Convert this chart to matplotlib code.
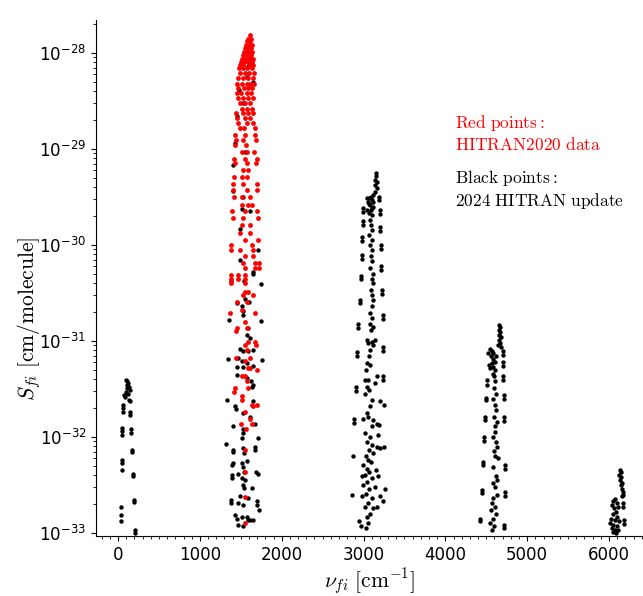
import numpy as np
import matplotlib
matplotlib.use('Agg')
import matplotlib.pyplot as plt
from matplotlib.ticker import MultipleLocator

# values: wavenumber [cm^-1] and log10 of intensity

# band near 100 cm-1 (black)
nu_b1 = [98, 114, 126, 106, 135, 114, 143, 98, 122, 78, 86, 139, 147,
         65, 65, 65, 53, 53, 53, 45, 45, 45, 37, 37, 37,
         147, 147, 163, 163, 175, 175, 188, 188, 196, 196, 208, 208]
lgS_b1 = [-31.41, -31.42, -31.44, -31.46, -31.48, -31.49, -31.51, -31.53, -31.55, -31.56, -31.58, -31.61, -31.63,
          -31.67, -31.70, -31.74, -31.91, -31.94, -31.98, -32.24, -32.27, -32.34, -32.73, -32.81, -32.88,
          -31.74, -31.77, -31.92, -31.96, -32.14, -32.16, -32.39, -32.41, -32.66, -32.68, -32.97, -33.00]

# band near 1600 cm-1, 2024 update (black)
nu_b2 = [1377, 1544, 1743, 1654, 1552, 1601, 1450, 1511, 1523, 1360, 1747, 1531, 1593, 1572, 1613,
         1491, 1531, 1593, 1654, 1348, 1755, 1470, 1511, 1572, 1450, 1531, 1654, 1458, 1572, 1621,
         1654, 1633, 1336, 1430, 1442, 1654, 1531, 1613, 1674, 1409, 1523, 1531, 1511, 1320, 1715,
         1401, 1409, 1531, 1544, 1674, 1674, 1580, 1511, 1401, 1393, 1523, 1540, 1686, 1715, 1389,
         1389, 1470, 1511, 1552, 1531, 1633, 1544, 1491, 1593, 1377, 1385, 1694, 1703, 1470, 1531,
         1727, 1430, 1511, 1450, 1572, 1613, 1654, 1470, 1531, 1593,
         1613, 1483, 1572, 1654, 1450, 1430, 1552, 1409, 1409, 1531, 1511, 1613, 1491, 1715, 1491,
         1654, 1593, 1531]
lgS_b2 = [-30.38, -30.38, -30.41, -30.28, -30.56, -30.59, -30.61, -30.64, -30.73, -30.78, -30.79, -30.69, -30.87, -30.94, -30.97,
          -31.08, -31.11, -31.11, -31.09, -31.19, -31.20, -31.18, -31.21, -31.23, -31.27, -31.27, -31.26, -31.36, -31.39, -31.42,
          -31.46, -31.48, -31.61, -31.68, -31.71, -31.63, -31.75, -31.79, -31.86, -31.89, -31.92, -31.96, -32.01, -32.07, -32.01,
          -32.14, -32.16, -32.12, -32.17, -32.10, -32.14, -32.25, -32.27, -32.27, -32.29, -32.31, -32.37, -32.37, -32.39, -32.40,
          -32.43, -32.39, -32.43, -32.45, -32.50, -32.53, -32.53, -32.62, -32.64, -32.66, -32.69, -32.67, -32.71, -32.69, -32.71,
          -32.76, -32.81, -32.83, -32.85, -32.83, -32.86, -32.87, -32.92, -32.93, -32.86,
          -28.06, -28.39, -28.25, -28.30, -28.66, -28.94, -29.03, -29.17, -29.44, -29.50, -29.63, -29.65, -29.83, -30.05, -30.16,
          -30.30, -28.14, -28.52]

# band near 1600 cm-1, HITRAN2020 (red)
nu_red = [1613, 1593, 1621, 1572, 1613, 1564, 1605, 1633, 1552, 1593, 1625, 1540, 1580, 1613, 1641,
          1523, 1572, 1621, 1511, 1552, 1605, 1646, 1499, 1540, 1593, 1633, 1491, 1531, 1613, 1654,
          1483, 1523, 1572, 1633, 1491, 1552, 1605, 1662, 1470, 1531, 1593, 1654, 1458, 1511, 1572,
          1613, 1662, 1470, 1540, 1593, 1633, 1450, 1499, 1572, 1621, 1470, 1531, 1593, 1646, 1491,
          1552, 1613, 1511, 1572, 1633, 1442, 1531, 1593, 1654, 1450, 1552, 1613, 1470, 1572, 1654,
          1491, 1540, 1674, 1430, 1552, 1674, 1438, 1531, 1686, 1430, 1564, 1511, 1572, 1666, 1422,
          1552, 1694, 1430, 1572, 1686, 1531, 1593, 1417, 1511, 1572, 1409, 1531, 1694, 1409, 1572,
          1703, 1417, 1511, 1613, 1511, 1593, 1633, 1397, 1552, 1703, 1401, 1531, 1715, 1511, 1613,
          1491, 1613, 1552, 1715, 1377, 1633, 1385, 1491, 1646, 1552, 1654, 1531, 1674, 1727, 1552,
          1674, 1727, 1377, 1470, 1552,
          1377, 1470, 1552, 1377, 1552, 1552, 1593, 1531, 1654, 1458, 1572, 1511, 1369, 1674, 1552,
          1450, 1572, 1442, 1593, 1674, 1552, 1686, 1572, 1442, 1613, 1552, 1593, 1613, 1694, 1511,
          1552, 1572, 1430, 1593, 1422, 1511, 1511, 1633, 1703, 1654, 1552, 1613, 1499, 1633, 1560,
          1552, 1552, 1552, 1552]
lgS_red = [-27.81, -27.85, -27.85, -27.88, -27.88, -27.92, -27.92, -27.92, -27.95, -27.95, -27.95, -27.99, -27.99, -27.99, -27.99,
           -28.02, -28.02, -28.02, -28.06, -28.06, -28.06, -28.06, -28.09, -28.09, -28.09, -28.09, -28.13, -28.13, -28.13, -28.13,
           -28.16, -28.16, -28.16, -28.16, -28.21, -28.21, -28.21, -28.21, -28.26, -28.26, -28.26, -28.26, -28.32, -28.32, -28.32,
           -28.32, -28.32, -28.37, -28.37, -28.37, -28.37, -28.42, -28.42, -28.42, -28.42, -28.47, -28.47, -28.47, -28.47, -28.52,
           -28.52, -28.52, -28.58, -28.58, -28.58, -28.63, -28.63, -28.63, -28.63, -28.68, -28.68, -28.68, -28.73, -28.73, -28.73,
           -28.78, -28.78, -28.78, -28.85, -28.85, -28.85, -28.91, -28.91, -28.91, -28.96, -28.96, -29.03, -29.03, -29.03, -29.10,
           -29.10, -29.10, -29.15, -29.15, -29.15, -29.22, -29.22, -29.29, -29.29, -29.29, -29.37, -29.37, -29.37, -29.43, -29.43,
           -29.43, -29.50, -29.50, -29.50, -29.58, -29.58, -29.58, -29.65, -29.65, -29.65, -29.72, -29.72, -29.72, -29.79, -29.79,
           -29.88, -29.88, -29.95, -29.95, -30.00, -30.00, -30.05, -30.05, -30.05, -30.12, -30.12, -30.19, -30.19, -30.19, -30.24,
           -30.24, -30.24, -30.31, -30.31, -30.31,
           -30.35, -30.35, -30.35, -30.40, -30.40, -30.49, -30.49, -30.52, -30.52, -30.59, -30.59, -30.68, -30.71, -30.71, -30.80,
           -30.87, -30.87, -30.90, -31.01, -31.01, -31.04, -31.04, -31.09, -31.18, -31.18, -31.21, -31.28, -31.28, -31.30, -31.37,
           -31.37, -31.42, -31.49, -31.49, -31.53, -31.57, -31.61, -31.67, -31.67, -31.68, -31.74, -31.81, -31.86, -31.86, -31.92,
           -32.14, -32.37, -32.63, -32.90]

# band near 3100 cm-1 (black)
nu_b3 = [3149, 3153, 3141, 3161, 3145, 3161, 3137, 3112, 3088, 3072, 3100, 3120, 3059, 3080, 3112,
         3088, 3072, 3100, 3080, 3088, 3100, 3072, 3100, 3080, 3108, 3088, 3100, 3080, 3112, 3100,
         3120, 3088, 3108, 3120, 3100, 3080, 3100, 3080, 3112, 3088, 3059, 3100, 3120, 3080, 3072,
         3039, 3080, 3031, 3059, 3039, 3072, 3019, 3100, 3080, 3039, 3059, 3112, 3100, 3080, 3047,
         3100, 3072, 3120, 3031, 3059, 3088, 2998, 3039, 3072, 3019, 2978, 3100, 3047, 2998, 3072,
         3031, 2978, 3100, 3059, 3019, 3120, 3080, 3039, 2949, 3059, 2966, 3031,
         3161, 3202, 3182, 3153, 3141, 3202, 3243, 3161,
         3047, 3141, 3019, 3161, 3141, 2998, 3161, 3019,
         3047, 3072, 3100, 3047,
         3194, 3194, 3202, 3202, 3202, 3202, 3210, 3210, 3214, 3214, 3222, 3222, 3235, 3235, 3243,
         3243, 3243, 3243, 3251, 3202, 3194, 3182, 3251, 3263,
         2998, 2998, 2990, 2990, 2986, 2986, 2978, 2978, 2970, 2970, 2958, 2958, 2937, 2937, 2917,
         2917, 2905, 2905, 2888, 2888, 2876, 2864]
lgS_b3 = [-29.25, -29.28, -29.32, -29.34, -29.38, -29.41, -29.45, -29.48, -29.50, -29.51, -29.53, -29.55, -29.55, -29.58, -29.60,
          -29.64, -29.67, -29.69, -29.74, -29.79, -29.84, -29.90, -29.95, -30.00, -30.05, -30.12, -30.17, -30.24, -30.30, -30.35,
          -30.40, -30.47, -30.52, -30.57, -30.64, -30.71, -30.76, -30.82, -30.85, -30.89, -31.02, -31.01, -31.04, -31.09, -31.16,
          -31.23, -31.25, -31.30, -31.41, -31.48, -31.51, -31.55, -31.62, -31.68, -31.75, -31.79, -31.82, -31.89, -32.00, -32.05,
          -32.08, -32.14, -32.17, -32.20, -32.24, -32.26, -32.29, -32.33, -32.36, -32.40, -32.41, -32.43, -32.47, -32.50, -32.54,
          -32.59, -32.62, -32.64, -32.69, -32.73, -32.74, -32.80, -32.83, -32.88, -32.90, -32.93, -32.95,
          -32.10, -32.12, -32.41, -32.34, -32.52, -32.62, -32.67, -32.73,
          -30.99, -30.99, -31.41, -31.37, -31.44, -31.81, -31.86, -31.96,
          -29.51, -29.57, -29.62, -29.64,
          -29.50, -29.53, -29.64, -29.68, -29.81, -29.85, -30.00, -30.04, -30.22, -30.26, -30.47, -30.51, -30.73, -30.77, -31.06,
          -31.10, -31.37, -31.41, -31.67, -31.63, -31.88, -31.98, -32.10, -32.54,
          -29.62, -29.66, -29.75, -29.79, -29.92, -29.96, -30.11, -30.15, -30.32, -30.36, -30.57, -30.61, -30.82, -30.87, -31.12,
          -31.16, -31.48, -31.52, -31.81, -31.85, -32.20, -32.60]

# band near 4600 cm-1 (black)
nu_b4 = [4660, 4668, 4656, 4672, 4660, 4676, 4656, 4668, 4647, 4676,
         4566, 4586, 4554, 4578, 4607, 4566, 4586, 4546, 4607, 4578, 4594, 4537, 4619, 4525, 4546,
         4700, 4700, 4709, 4709, 4709, 4709, 4717, 4717, 4717, 4717, 4725, 4725, 4729, 4729, 4721, 4721,
         4505, 4505, 4497, 4497, 4484, 4484, 4472, 4472, 4456, 4456, 4444, 4444, 4423, 4423,
         4607, 4599, 4619, 4586, 4607, 4619, 4594, 4627, 4603, 4611, 4586, 4619, 4635, 4599, 4611,
         4647, 4586, 4619, 4635, 4578, 4607, 4627, 4586, 4566, 4603, 4554, 4619, 4578, 4546, 4594, 4566]
lgS_b4 = [-30.83, -30.86, -30.89, -30.91, -30.94, -30.96, -30.99, -31.02, -31.04, -31.06,
          -31.11, -31.13, -31.16, -31.19, -31.22, -31.23, -31.27, -31.28, -31.30, -31.34, -31.37, -31.25, -31.16, -31.13, -31.08,
          -31.11, -31.15, -31.22, -31.26, -31.37, -31.41, -31.56, -31.60, -31.79, -31.83, -32.29, -32.33, -32.57, -32.61, -32.92, -32.95,
          -31.41, -31.46, -31.59, -31.62, -31.79, -31.82, -32.00, -32.04, -32.26, -32.29, -32.55, -32.58, -32.85, -32.88,
          -31.42, -31.49, -31.55, -31.60, -31.67, -31.72, -31.79, -31.84, -31.89, -31.95, -32.00, -32.05, -32.10, -32.15, -32.20,
          -32.22, -32.31, -32.41, -32.45, -32.48, -32.52, -32.60, -32.64, -32.69, -32.73, -32.76, -32.80, -32.85, -32.90, -32.93, -32.97]

# band near 6100 cm-1 (black)
nu_b5 = [6135, 6143, 6126, 6147, 6135, 6155, 6143, 6163, 6175, 6175, 6155, 6175, 6175, 6188, 6188,
         6073, 6053, 6094, 6033, 6061, 6114, 6086, 6045, 6102, 6021, 6073, 6126, 6053, 6094, 6033,
         6073, 6114, 6053, 6086, 6012]
lgS_b5 = [-32.34, -32.37, -32.40, -32.42, -32.45, -32.48, -32.50, -32.54, -32.57, -32.60, -32.62, -32.69, -32.73, -32.86, -32.91,
          -32.65, -32.67, -32.69, -32.71, -32.74, -32.73, -32.78, -32.80, -32.83, -32.85, -32.86, -32.88, -32.92, -32.93, -32.95,
          -32.97, -32.97, -32.99, -33.00, -32.90]

fig = plt.figure(figsize=(6.43, 5.96), dpi=100)
ax = fig.add_axes([0.1493, 0.1007, 0.8507, 0.8657])

for nu, lg in [(nu_b1, lgS_b1), (nu_b2, lgS_b2), (nu_b3, lgS_b3), (nu_b4, lgS_b4), (nu_b5, lgS_b5)]:
    ax.scatter(nu, 10.0**np.array(lg), s=10, color='black', linewidths=0)
ax.scatter(nu_red, 10.0**np.array(lgS_red), s=12, color='red', linewidths=0)

ax.set_yscale('log')
ax.set_xlim(-270, 6415)
ax.set_ylim(9.3e-34, 2.2e-28)
ax.xaxis.set_major_locator(MultipleLocator(1000))
ax.xaxis.set_minor_locator(MultipleLocator(100))
ax.tick_params(labelsize=12)
ax.spines['top'].set_visible(False)
ax.spines['right'].set_visible(False)

ax.set_xlabel(r'$\nu_{fi}\ [\mathrm{cm}^{-1}]$', fontsize=15.5, math_fontfamily='cm', labelpad=2)
ax.set_ylabel(r'$S_{fi}\ [\mathrm{cm/molecule}]$', fontsize=15.5, math_fontfamily='cm')
ax.yaxis.set_label_coords(-0.097, 0.42)

ax.text(0.656, 0.748, '$\\mathrm{Red\\ points:}$\n$\\mathrm{HITRAN2020\\ data}$', transform=ax.transAxes,
        color='red', fontsize=12.5, math_fontfamily='cm', va='baseline', linespacing=1.2)
ax.text(0.656, 0.639, '$\\mathrm{Black\\ points:}$\n$\\mathrm{2024\\ HITRAN\\ update}$', transform=ax.transAxes,
        color='black', fontsize=12.5, math_fontfamily='cm', va='baseline', linespacing=1.2)

plt.savefig('out.png', dpi=100)
